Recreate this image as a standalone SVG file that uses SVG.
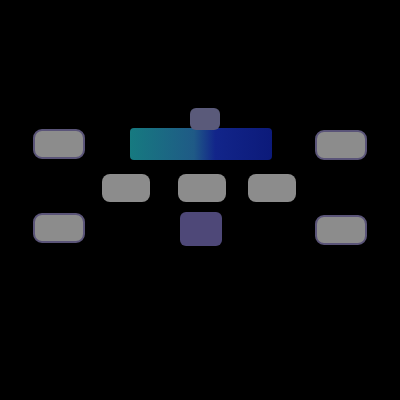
<svg xmlns="http://www.w3.org/2000/svg" width="400" height="400" viewBox="0 0 400 400">
<style>
.node{fill:#8c8c8c;}
.side{fill:#8c8c8c;stroke:#5a5478;stroke-width:2;}
</style>
<defs>
<linearGradient id="band" x1="0" y1="0" x2="1" y2="0">
<stop offset="0" stop-color="#167a80"/>
<stop offset="0.45" stop-color="#1f5a86"/>
<stop offset="0.6" stop-color="#12258a"/>
<stop offset="1" stop-color="#0c1a7a"/>
</linearGradient>
</defs>
<rect width="400" height="400" fill="#000"/>
<g id="connectors"></g>
<g id="header">
<rect x="130" y="128" width="142" height="32" rx="4" fill="url(#band)"/>
</g>
<g id="top-tab">
<rect x="190" y="108" width="30" height="22" rx="6" fill="#5a5a7a"/>
</g>
<g id="left-top"><rect class="side" x="34" y="130" width="50" height="28" rx="8"/></g>
<g id="right-top"><rect class="side" x="316" y="131" width="50" height="28" rx="8"/></g>
<g id="mid-left"><rect class="node" x="102" y="174" width="48" height="28" rx="8"/></g>
<g id="mid-center"><rect class="node" x="178" y="174" width="48" height="28" rx="8"/></g>
<g id="mid-right"><rect class="node" x="248" y="174" width="48" height="28" rx="8"/></g>
<g id="left-bottom"><rect class="side" x="34" y="214" width="50" height="28" rx="8"/></g>
<g id="right-bottom"><rect class="side" x="316" y="216" width="50" height="28" rx="8"/></g>
<g id="bottom-center"><rect x="180" y="212" width="42" height="34" rx="6" fill="#4e4878"/></g>
</svg>
